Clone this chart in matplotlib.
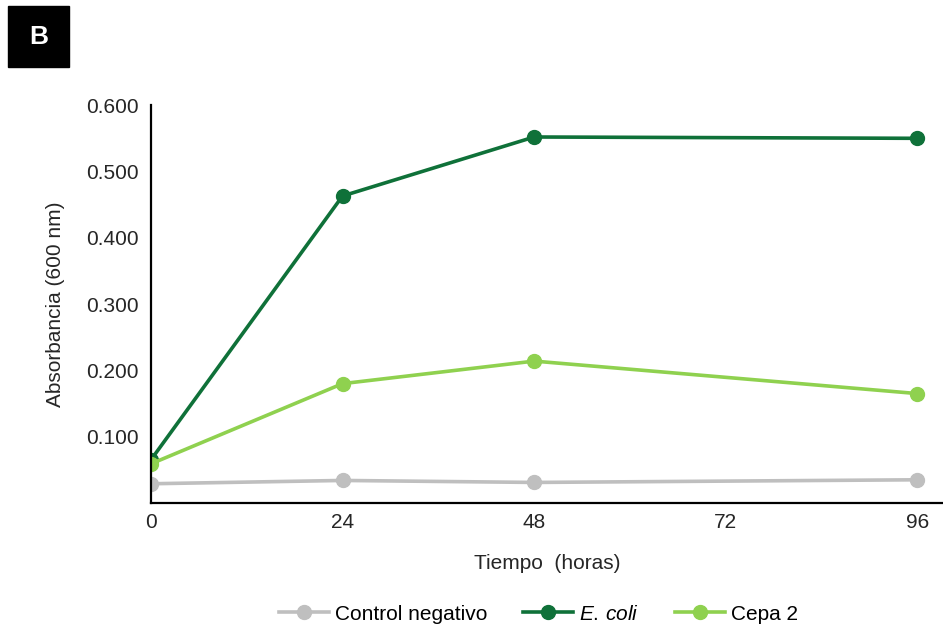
import matplotlib
matplotlib.use("Agg")
import matplotlib.pyplot as plt
from matplotlib.patches import Rectangle

plt.rcParams['font.family'] = ['Liberation Sans', 'DejaVu Sans']
plt.rcParams['mathtext.fontset'] = 'custom'
plt.rcParams['mathtext.rm'] = 'Liberation Sans'
plt.rcParams['mathtext.it'] = 'Liberation Sans:italic'

horas = [0, 24, 48, 96]
control_negativo = [0.029, 0.034, 0.031, 0.035]
e_coli = [0.065, 0.463, 0.552, 0.550]
cepa_2 = [0.059, 0.180, 0.214, 0.165]
x_ticks = [0, 24, 48, 72, 96]
y_ticks = [0.1, 0.2, 0.3, 0.4, 0.5, 0.6]

gris = '#bfbfbf'
verde_oscuro = '#0f7139'
verde_claro = '#8fd14f'
texto = '#262626'

fig = plt.figure(figsize=(9.43, 6.26), dpi=100)
ax = fig.add_axes([0.160, 0.1965, 0.840, 0.6355])

ax.plot(horas, control_negativo, color=gris, lw=2.6, marker='o', ms=10, label='Control negativo')
ax.plot(horas, e_coli, color=verde_oscuro, lw=2.6, marker='o', ms=10, label='$\\it{E.\\,coli}$')
ax.plot(horas, cepa_2, color=verde_claro, lw=2.6, marker='o', ms=10, label='Cepa 2')

ax.set_xlim(0, 99.2)
ax.set_ylim(0, 0.6)
ax.set_xticks(x_ticks)
ax.set_yticks(y_ticks)
ax.set_yticklabels(['%.3f' % v for v in y_ticks])
ax.tick_params(length=0, labelsize=15, colors=texto)
ax.tick_params(axis='x', pad=7)
ax.tick_params(axis='y', pad=9)
for s in ['top', 'right']:
    ax.spines[s].set_visible(False)
for s in ['left', 'bottom']:
    ax.spines[s].set_linewidth(1.6)
    ax.spines[s].set_color('black')

ax.set_xlabel('Tiempo  (horas)', fontsize=15, color=texto, labelpad=16)
ax.set_ylabel('Absorbancia (600 nm)', fontsize=15, color=texto, labelpad=15)

fig.legend(loc='center', bbox_to_anchor=(0.571, 0.019), ncol=3, frameon=False,
           fontsize=15, handlelength=2.4, columnspacing=1.7, handletextpad=0.3)

fig.patches.append(Rectangle((8 / 943, 1 - 67 / 626), 61 / 943, 61 / 626,
                             transform=fig.transFigure, color='black'))
fig.text(38.5 / 943, 1 - 36.5 / 626, 'B', color='white', fontsize=19, fontweight='bold',
         ha='center', va='center')

fig.savefig('out.png', dpi=100)
